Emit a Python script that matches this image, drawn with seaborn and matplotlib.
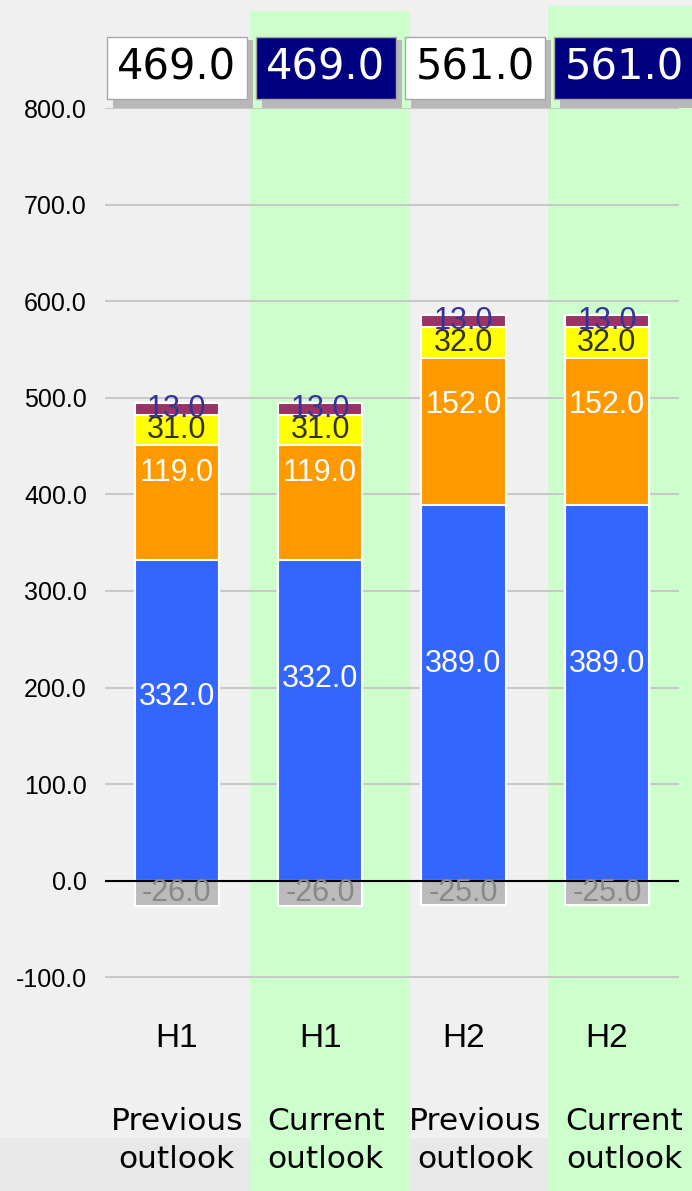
import numpy as np
import matplotlib
matplotlib.use("Agg")
import matplotlib.pyplot as plt
import matplotlib.transforms as mtransforms
from matplotlib.patches import Rectangle
import seaborn as sns

# values
periods = ["H1", "H1", "H2", "H2"]
outlooks = ["Previous outlook", "Current outlook", "Previous outlook", "Current outlook"]
blue_vals = [332, 332, 389, 389]
orange_vals = [119, 119, 152, 152]
yellow_vals = [31, 31, 32, 32]
maroon_vals = [13, 13, 13, 13]
neg_vals = [-26, -26, -25, -25]
totals = [469, 469, 561, 561]

keys = [f"{p} {o}" for p, o in zip(periods, outlooks)]

W, H = 692, 1191
fig = plt.figure(figsize=(W / 100, H / 100), dpi=100, facecolor="#f0f0f0")
ax = fig.add_axes([105 / W, 1 - 1016 / H, 573.6 / W, (1016 - 108) / H])
ax.set_facecolor("none")

blend = mtransforms.blended_transform_factory(ax.transData, fig.transFigure)
label_x = [i * 1.04 for i in range(len(keys))]

# background strips
fig.add_artist(Rectangle((0, 0), 1, 53 / H, transform=fig.transFigure,
                         fc="#e8e8e8", ec="none", zorder=-20))
band_tops = [11, 11, 11, 6]
for i, o in enumerate(outlooks):
    if o.startswith("Current"):
        fig.add_artist(Rectangle((label_x[i] - 0.53, 0), 1.12, 1 - band_tops[i] / H,
                                 transform=blend, fc="#ccffcc", ec="none", zorder=-10))

# stacked bars: draw cumulative sums back to front
segments = [blue_vals, orange_vals, yellow_vals, maroon_vals]
seg_colors = ["#3366ff", "#ff9900", "#ffff00", "#993366"]
cum = np.cumsum(np.array(segments), axis=0)
for k in range(len(segments) - 1, -1, -1):
    sns.barplot(x=keys, y=cum[k], order=keys, color=seg_colors[k], width=0.586,
                saturation=1, edgecolor="white", linewidth=1.5, errorbar=None, ax=ax)
sns.barplot(x=keys, y=neg_vals, order=keys, color="#bbbbbb", width=0.586,
            saturation=1, edgecolor="white", linewidth=1.5, errorbar=None, ax=ax)

ax.axhline(0, color="black", lw=1.5, zorder=5)
ax.set_xlim(-0.5, 3.5)
ax.set_ylim(-140, 800)
ax.set_yticks(range(-100, 801, 100))
ax.set_yticklabels([f"{v:.1f}" for v in range(-100, 801, 100)],
                   fontsize=18, family="Liberation Sans")
ax.tick_params(axis="y", length=0, pad=13)
ax.set_xticks([])
ax.set_xlabel("")
ax.set_ylabel("")
ax.grid(axis="y", color="#c8c8c8", lw=1.5)
ax.set_axisbelow(True)
for s in ax.spines.values():
    s.set_visible(False)

# segment labels
label_colors = ["white", "white", "#333300", "#333399"]
label_frac = [[0.573, 0.63, 0.577, 0.577],
              [0.756, 0.756, 0.68, 0.68],
              [0.5, 0.5, 0.5, 0.5],
              [0.5, 0.5, 0.5, 0.5]]
for k, vals in enumerate(segments):
    for i, v in enumerate(vals):
        bottom = cum[k][i] - v
        ax.text(i, bottom + label_frac[k][i] * v, f"{v:.1f}", ha="center", va="center",
                color=label_colors[k], fontsize=22, family="Liberation Sans", zorder=6)
for i, v in enumerate(neg_vals):
    ax.text(i, v / 2, f"{v:.1f}", ha="center", va="center",
            color="#888888", fontsize=22, family="Liberation Sans", zorder=6)

# total boxes on top, with a drop shadow
shadow = mtransforms.offset_copy(blend, fig=fig, x=6, y=-6, units="dots")
box_w = 140 / 143.3
box_h = 67 / H
for i, t in enumerate(totals):
    cur = outlooks[i].startswith("Current")
    ax.add_patch(Rectangle((label_x[i] - box_w / 2, 1 - 68 / H - box_h / 2), box_w, box_h,
                           transform=shadow, fc="#b8b8b8", ec="none", zorder=9,
                           clip_on=False))
    ax.text(label_x[i], 1 - 68 / H, f"{t:.1f}", transform=blend, ha="center", va="center",
            fontsize=30, family="DejaVu Sans", color="white" if cur else "black", zorder=10,
            bbox=dict(boxstyle="square,pad=0.25", fc="#000080" if cur else "white",
                      ec="#a8a8a8", lw=1))

# category labels
for i, p in enumerate(periods):
    ax.text(i, 1 - 1047 / H, p, transform=blend, ha="center", va="baseline",
            fontsize=24, family="Liberation Sans")
for i, o in enumerate(outlooks):
    first, second = o.split(" ")
    ax.text(label_x[i], 1 - 1130 / H, first, transform=blend, ha="center", va="baseline",
            fontsize=22.5, family="DejaVu Sans")
    ax.text(label_x[i], 1 - 1168 / H, second, transform=blend, ha="center", va="baseline",
            fontsize=22.5, family="DejaVu Sans")

fig.savefig("out.png", dpi=100, facecolor=fig.get_facecolor())
